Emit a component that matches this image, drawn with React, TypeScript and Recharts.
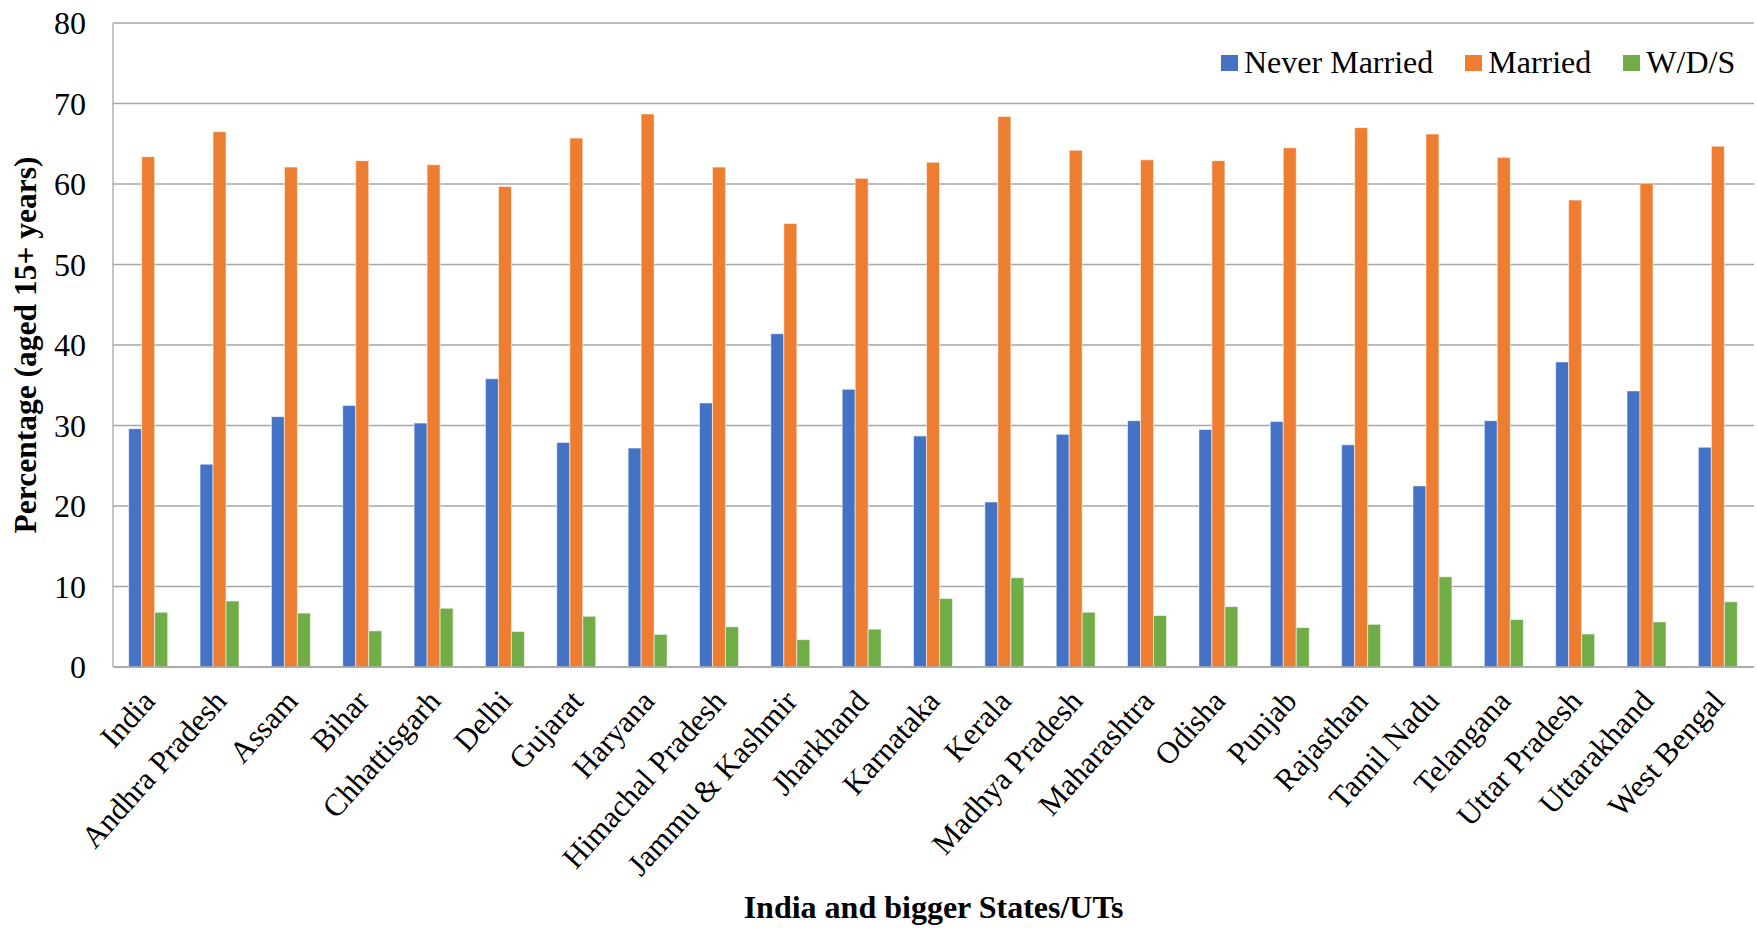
import { BarChart, Bar, XAxis, YAxis, CartesianGrid, Legend } from "recharts";

const states = [
  "India", "Andhra Pradesh", "Assam", "Bihar", "Chhattisgarh", "Delhi", "Gujarat",
  "Haryana", "Himachal Pradesh", "Jammu & Kashmir", "Jharkhand", "Karnataka", "Kerala",
  "Madhya Pradesh", "Maharashtra", "Odisha", "Punjab", "Rajasthan", "Tamil Nadu",
  "Telangana", "Uttar Pradesh", "Uttarakhand", "West Bengal",
];

const neverMarried = [
  29.6, 25.2, 31.1, 32.5, 30.3, 35.8, 27.9, 27.2, 32.8, 41.4, 34.5, 28.7, 20.5,
  28.9, 30.6, 29.5, 30.5, 27.6, 22.5, 30.6, 37.9, 34.3, 27.3,
];
const married = [
  63.4, 66.5, 62.1, 62.9, 62.4, 59.7, 65.7, 68.7, 62.1, 55.1, 60.7, 62.7, 68.4,
  64.2, 63.0, 62.9, 64.5, 67.0, 66.2, 63.3, 58.0, 60.1, 64.7,
];
const wds = [
  6.8, 8.2, 6.7, 4.5, 7.3, 4.4, 6.3, 4.05, 5.0, 3.4, 4.7, 8.5, 11.1,
  6.8, 6.4, 7.5, 4.9, 5.3, 11.2, 5.9, 4.1, 5.6, 8.1,
];

const yTicks = [0, 10, 20, 30, 40, 50, 60, 70, 80];

const series = [
  { key: "never", name: "Never Married", color: "#4472C4" },
  { key: "married", name: "Married", color: "#ED7D31" },
  { key: "wds", name: "W/D/S", color: "#70AD47" },
];

const data = states.map((s, i) => ({
  state: s,
  never: neverMarried[i],
  married: married[i],
  wds: wds[i],
}));

const FONT = "'Liberation Serif', 'Times New Roman', serif";
const GRID = "#a6a6a6";

const StateTick = ({ x, y, payload }: any) => (
  <text
    x={x}
    y={y}
    transform={`rotate(-48 ${x} ${y})`}
    textAnchor="end"
    dy="0.35em"
    fontSize={31}
    fontFamily={FONT}
    fill="#000"
  >
    {payload.value}
  </text>
);

const renderLegend = () => (
  <div style={{ display: "flex", alignItems: "center", fontFamily: FONT, fontSize: 32, color: "#000", whiteSpace: "nowrap" }}>
    {series.map((s, i) => (
      <div key={s.key} style={{ display: "flex", alignItems: "center", marginRight: i < series.length - 1 ? 32 : 0 }}>
        <span style={{ width: 17, height: 16, background: s.color, display: "inline-block", marginRight: 6 }} />
        <span>{s.name}</span>
      </div>
    ))}
  </div>
);

export default function App() {
  return (
    <div style={{ position: "fixed", left: 0, top: 0, background: "#fff" }}>
      <BarChart
        width={1757}
        height={928}
        data={data}
        margin={{ top: 23, right: 3, left: 0, bottom: 0 }}
        barCategoryGap="22%"
        barGap={0}
      >
        <CartesianGrid vertical={false} stroke={GRID} strokeWidth={1.3} />
        <XAxis
          dataKey="state"
          interval={0}
          height={261}
          tickLine={false}
          tickSize={0}
          tickMargin={28}
          axisLine={{ stroke: GRID, strokeWidth: 1.3 }}
          tick={<StateTick />}
          label={{
            value: "India and bigger States/UTs",
            position: "insideBottom",
            offset: 10,
            style: { fontFamily: FONT, fontSize: 32, fontWeight: "bold", fill: "#000" },
          }}
        />
        <YAxis
          width={113}
          domain={[0, 80]}
          ticks={yTicks}
          interval={0}
          tickLine={false}
          tickSize={0}
          tickMargin={27}
          axisLine={{ stroke: GRID, strokeWidth: 1.3 }}
          tick={{ fontFamily: FONT, fontSize: 32, fill: "#000" }}
          label={{
            content: () => (
              <text
                x={36}
                y={345}
                transform="rotate(-90 36 345)"
                textAnchor="middle"
                fontFamily={FONT}
                fontSize={31.5}
                fontWeight="bold"
                fill="#000"
              >
                Percentage (aged 15+ years)
              </text>
            ),
          }}
        />
        <Legend
          layout="vertical"
          verticalAlign="middle"
          align="center"
          content={renderLegend}
          wrapperStyle={{ top: 44, left: 1221, width: "auto" }}
        />
        {series.map((s) => (
          <Bar
            key={s.key}
            dataKey={s.key}
            name={s.name}
            fill={s.color}
            stroke="#ffffff"
            strokeOpacity={0.7}
            strokeWidth={0.8}
            isAnimationActive={false}
          />
        ))}
      </BarChart>
    </div>
  );
}
